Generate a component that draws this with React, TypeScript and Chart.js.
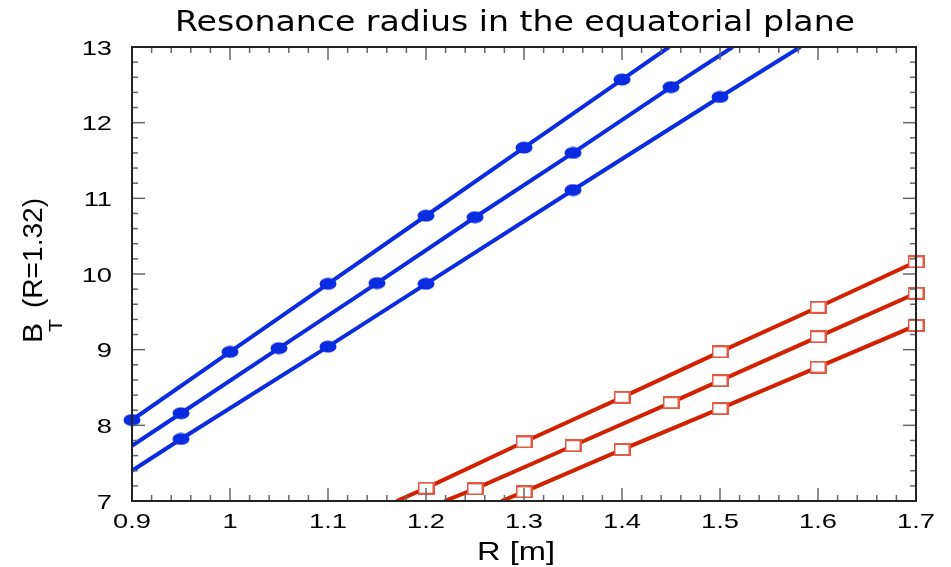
import React, { useEffect, useRef } from "react";
import { Chart, registerables } from "chart.js";

Chart.register(...registerables);

// ---- text ----
const titleText = "Resonance radius in the equatorial plane";
const xAxisTitle = "R [m]";
const yAxisMain = "B";
const yAxisSub = "T";
const yAxisRest = "(R=1.32)";

// ---- tick labels ----
const xTicks = [0.9, 1.0, 1.1, 1.2, 1.3, 1.4, 1.5, 1.6, 1.7];
const yTicks = [7, 8, 9, 10, 11, 12, 13];

// ---- blue series (filled circles) ----
const blue1X = [0.9, 1.0, 1.1, 1.2, 1.3, 1.4];
const blue1Y = [8.07, 8.97, 9.87, 10.77, 11.67, 12.57];
const blue1LineX = [0.9, 1.448];
const blue1LineY = [8.07, 13.0];

const blue2X = [0.95, 1.05, 1.15, 1.25, 1.35, 1.45];
const blue2Y = [8.16, 9.02, 9.88, 10.75, 11.6, 12.47];
const blue2LineX = [0.9, 1.513];
const blue2LineY = [7.73, 13.0];

const blue3X = [0.95, 1.1, 1.2, 1.35, 1.5];
const blue3Y = [7.82, 9.04, 9.87, 11.11, 12.34];
const blue3LineX = [0.9, 1.582];
const blue3LineY = [7.4, 13.0];

// ---- red series (open squares) ----
const red1X = [1.2, 1.3, 1.4, 1.5, 1.6, 1.7];
const red1Y = [7.17, 7.78, 8.37, 8.97, 9.56, 10.16];
const red1LineX = [1.17, 1.7];
const red1LineY = [7.0, 10.16];

const red2X = [1.25, 1.35, 1.45, 1.5, 1.6, 1.7];
const red2Y = [7.16, 7.73, 8.3, 8.59, 9.17, 9.745];
const red2LineX = [1.219, 1.7];
const red2LineY = [7.0, 9.745];

const red3X = [1.3, 1.4, 1.5, 1.6, 1.7];
const red3Y = [7.12, 7.68, 8.22, 8.77, 9.32];
const red3LineX = [1.277, 1.7];
const red3LineY = [7.0, 9.32];

const BLUE = "#0a2ce0";
const RED = "#d02200";
const RED_MARK = "#e25a44";

function pts(xs: number[], ys: number[]) {
  return xs.map((x, i) => ({ x, y: ys[i] }));
}

function lineData(lx: number[], ly: number[], mx: number[], my: number[]) {
  const all = [
    { x: lx[0], y: ly[0] },
    ...pts(mx, my),
    { x: lx[1], y: ly[1] },
  ];
  all.sort((a, b) => a.x - b.x);
  return all;
}

function makeEllipse(): HTMLCanvasElement {
  const c = document.createElement("canvas");
  c.width = 18;
  c.height = 13;
  const g = c.getContext("2d")!;
  g.fillStyle = BLUE;
  g.beginPath();
  g.ellipse(9, 6.5, 8.5, 6, 0, 0, Math.PI * 2);
  g.fill();
  return c;
}

function makeSquare(): HTMLCanvasElement {
  const c = document.createElement("canvas");
  c.width = 17;
  c.height = 13;
  const g = c.getContext("2d")!;
  g.fillStyle = "#ffffff";
  g.fillRect(1, 1, 15, 11);
  g.strokeStyle = RED_MARK;
  g.lineWidth = 2;
  g.strokeRect(1, 1, 15, 11);
  return c;
}

function drawFitted(
  ctx: CanvasRenderingContext2D,
  text: string,
  font: string,
  left: number,
  baseline: number,
  width: number
) {
  ctx.save();
  ctx.font = font;
  ctx.textAlign = "left";
  ctx.textBaseline = "alphabetic";
  const w = ctx.measureText(text).width;
  ctx.translate(left, baseline);
  ctx.scale(width / w, 1);
  ctx.fillText(text, 0, 0);
  ctx.restore();
}

function drawStretched(
  ctx: CanvasRenderingContext2D,
  text: string,
  font: string,
  x: number,
  baseline: number,
  sx: number,
  align: "left" | "right" | "center"
) {
  ctx.save();
  ctx.font = font;
  ctx.textAlign = align;
  ctx.textBaseline = "alphabetic";
  ctx.translate(x, baseline);
  ctx.scale(sx, 1);
  ctx.fillText(text, 0, 0);
  ctx.restore();
}

const fmtX = (v: number) => String(Number(v.toFixed(1)));
const fmtY = (v: number) => String(v);

const TICK_FONT = '21px "Liberation Sans"';
const TICK_SX = 1.3;

const decorPlugin = {
  id: "decor",
  afterDraw(chart: any) {
    const ctx: CanvasRenderingContext2D = chart.ctx;
    const a = chart.chartArea;
    const xs = chart.scales.x;
    const ys = chart.scales.y;
    ctx.save();
    ctx.strokeStyle = "#666666";
    ctx.lineWidth = 1.5;
    const seg = (x1: number, y1: number, x2: number, y2: number) => {
      ctx.beginPath();
      ctx.moveTo(x1, y1);
      ctx.lineTo(x2, y2);
      ctx.stroke();
    };
    for (let i = 0; i < xTicks.length - 1; i++) {
      for (let k = 0; k < 5; k++) {
        const v = xTicks[i] + ((xTicks[i + 1] - xTicks[i]) * k) / 5;
        const px = xs.getPixelForValue(v);
        const len = k === 0 ? 13 : 6;
        seg(px, a.bottom, px, a.bottom - len);
        seg(px, a.top, px, a.top + len);
      }
    }
    for (let i = 0; i < yTicks.length - 1; i++) {
      for (let k = 0; k < 5; k++) {
        const v = yTicks[i] + ((yTicks[i + 1] - yTicks[i]) * k) / 5;
        const py = ys.getPixelForValue(v);
        const len = k === 0 ? 13 : 6;
        seg(a.left, py, a.left + len, py);
        seg(a.right, py, a.right - len, py);
      }
    }
    // frame
    ctx.strokeStyle = "#222222";
    ctx.lineWidth = 2;
    ctx.strokeRect(a.left, a.top, a.right - a.left, a.bottom - a.top);

    ctx.fillStyle = "#000000";
    // tick labels from the scales
    xs.ticks.forEach((t: any) => {
      const px = xs.getPixelForValue(t.value);
      drawStretched(ctx, fmtX(t.value), TICK_FONT, px, a.bottom + 27, TICK_SX, "center");
    });
    ys.ticks.forEach((t: any) => {
      const py = ys.getPixelForValue(t.value);
      drawStretched(ctx, fmtY(t.value), TICK_FONT, a.left - 20, py + 7.5, TICK_SX, "right");
    });

    // title
    drawFitted(ctx, titleText, '28px "DejaVu Sans"', 175, 31, 680);
    // x-axis title
    drawFitted(ctx, xAxisTitle, '25px "Liberation Sans"', 477, 560, 78);
    // y-axis title (rotated)
    ctx.save();
    ctx.translate(42, 345);
    ctx.rotate(-Math.PI / 2);
    drawFitted(ctx, yAxisMain, '27px "Liberation Sans"', 2, 0, 20);
    drawFitted(ctx, yAxisSub, '19px "Liberation Sans"', 13, 20, 13);
    drawFitted(ctx, yAxisRest, '27px "Liberation Sans"', 37, 0, 110);
    ctx.restore();
    ctx.restore();
  },
};

export default function App() {
  const ref = useRef<HTMLCanvasElement | null>(null);

  useEffect(() => {
    if (!ref.current) return;
    const ellipse = makeEllipse();
    const square = makeSquare();

    const lineDs = (data: any[], color: string) => ({
      type: "scatter" as const,
      data,
      showLine: true,
      borderColor: color,
      backgroundColor: color,
      borderWidth: 4,
      pointRadius: 0,
      pointHoverRadius: 0,
      tension: 0,
      order: 1,
    });
    const markDs = (data: any[], style: HTMLCanvasElement) => ({
      type: "scatter" as const,
      data,
      showLine: false,
      pointStyle: style,
      pointRadius: 6,
      pointHoverRadius: 6,
      clip: false as any,
      order: 0,
    });

    const chart = new Chart(ref.current, {
      type: "scatter",
      data: {
        datasets: [
          lineDs(lineData(blue1LineX, blue1LineY, blue1X, blue1Y), BLUE),
          lineDs(lineData(blue2LineX, blue2LineY, blue2X, blue2Y), BLUE),
          lineDs(lineData(blue3LineX, blue3LineY, blue3X, blue3Y), BLUE),
          lineDs(lineData(red1LineX, red1LineY, red1X, red1Y), RED),
          lineDs(lineData(red2LineX, red2LineY, red2X, red2Y), RED),
          lineDs(lineData(red3LineX, red3LineY, red3X, red3Y), RED),
          markDs(pts(blue1X, blue1Y), ellipse),
          markDs(pts(blue2X, blue2Y), ellipse),
          markDs(pts(blue3X, blue3Y), ellipse),
          markDs(pts(red1X, red1Y), square),
          markDs(pts(red2X, red2Y), square),
          markDs(pts(red3X, red3Y), square),
        ] as any,
      },
      options: {
        responsive: false,
        animation: false,
        events: [],
        layout: { padding: { top: 47, right: 35, left: 0, bottom: 0 } },
        plugins: {
          legend: { display: false },
          tooltip: { enabled: false },
          title: { display: false },
        },
        scales: {
          x: {
            type: "linear",
            min: 0.9,
            max: 1.7,
            grid: { display: false, drawTicks: false },
            border: { display: false },
            afterBuildTicks: (s: any) => {
              s.ticks = xTicks.map((v) => ({ value: v }));
            },
            afterFit: (s: any) => {
              s.height = 66;
            },
            ticks: { display: false },
          },
          y: {
            type: "linear",
            min: 7,
            max: 13,
            grid: { display: false, drawTicks: false },
            border: { display: false },
            afterBuildTicks: (s: any) => {
              s.ticks = yTicks.map((v) => ({ value: v }));
            },
            afterFit: (s: any) => {
              s.width = 132;
            },
            ticks: { display: false },
          },
        },
      },
      plugins: [decorPlugin],
    });
    return () => chart.destroy();
  }, []);

  return (
    <div style={{ position: "fixed", left: 0, top: 0, width: 951, height: 567, background: "#fff" }}>
      <canvas ref={ref} width={951} height={567} style={{ display: "block" }} />
    </div>
  );
}
